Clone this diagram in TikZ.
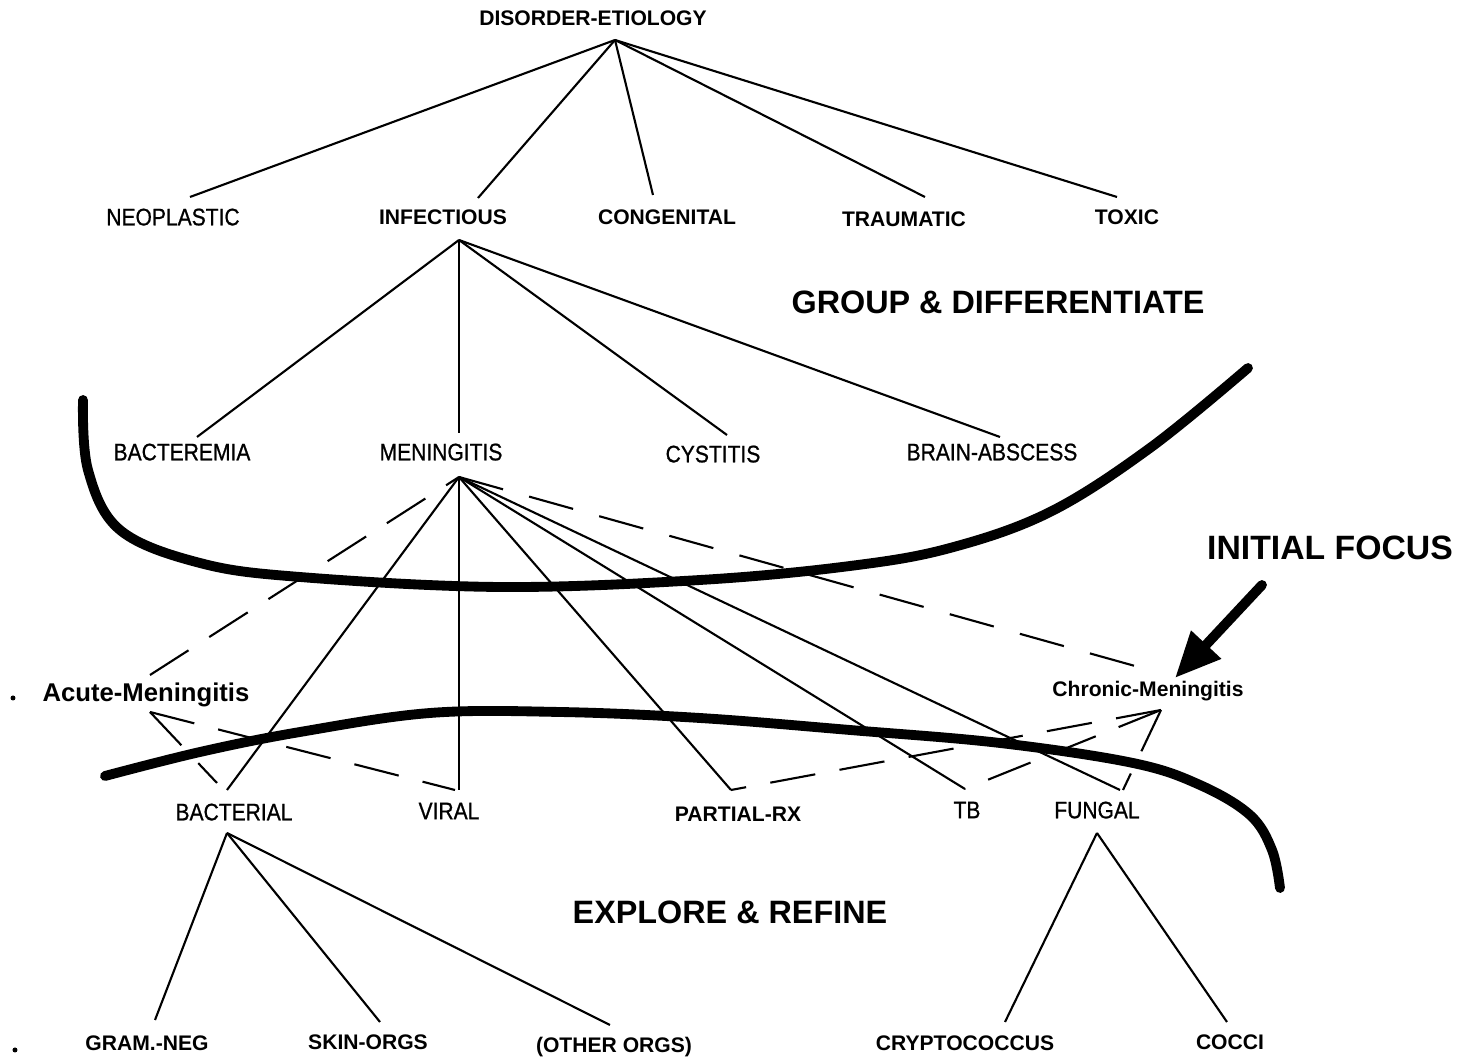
\documentclass[tikz,border=0pt]{standalone}
\usepackage{fontspec}
\setmainfont{Liberation Sans}
\newfontfamily\narrowfont[FakeStretch=0.88,FakeBold=0.8]{Liberation Sans}
\usetikzlibrary{arrows.meta}

\tikzset{
  lbl/.style={font=\narrowfont\fontsize{6.8}{8}\selectfont, inner sep=1pt, text depth=0pt},
  lblb/.style={font=\fontsize{6}{7}\selectfont\bfseries, inner sep=1pt, text depth=0pt},
  banner/.style={font=\fontsize{9.2}{11}\selectfont\bfseries, inner sep=0pt},
  branch/.style={line width=0.6pt},
  alt/.style={line width=0.6pt, dash pattern=on 13pt off 7pt},
  boundary/.style={line width=2.8pt, line cap=round},
}

\begin{document}
\begin{tikzpicture}[x=0.01cm,y=-0.01cm]
\useasboundingbox (0,0) rectangle (1465,1061);

% labels
\node[lblb] (dis) at (593,18) {DISORDER-ETIOLOGY};
\node[lbl]  (neo) at (173,217) {NEOPLASTIC};
\node[lblb] (inf) at (443,217) {INFECTIOUS};
\node[lblb] (con) at (667,217) {CONGENITAL};
\node[lblb] (tra) at (904,219) {TRAUMATIC};
\node[lblb] (tox) at (1127,217) {TOXIC};
\node[lbl]  (bcm) at (182,452) {BACTEREMIA};
\node[lbl]  (men) at (441,452) {MENINGITIS};
\node[lbl]  (cys) at (713,454) {CYSTITIS};
\node[lbl]  (bra) at (992,452) {BRAIN-ABSCESS};
\node[lblb, font=\fontsize{7.3}{8}\selectfont\bfseries] (acu) at (146,692) {Acute-Meningitis};
\node[lblb] (chr) at (1148,689) {Chronic-Meningitis};
\node[lbl]  (bac) at (234,812) {BACTERIAL};
\node[lbl]  (vir) at (449,811) {VIRAL};
\node[lblb] (par) at (738,814) {PARTIAL-RX};
\node[lbl]  (tb)  at (967,810) {TB};
\node[lbl]  (fun) at (1097,810) {FUNGAL};
\node[lblb] (gra) at (147,1043) {GRAM.-NEG};
\node[lblb] (ski) at (368,1042) {SKIN-ORGS};
\node[lblb] (oth) at (614,1045) {(OTHER ORGS)};
\node[lblb] (cry) at (965,1043) {CRYPTOCOCCUS};
\node[lblb] (coc) at (1230,1042) {COCCI};

\node[banner] (grp) at (998,302) {GROUP \& DIFFERENTIATE};
\node[banner, font=\fontsize{9.6}{11}\selectfont\bfseries] (foc) at (1330,548) {INITIAL FOCUS};
\node[banner] (exp) at (730,912) {EXPLORE \& REFINE};

\fill (13,698) circle (2.5);
\fill (15,1050) circle (2.5);

% branch points
\coordinate (dis-o) at (615,40);
\coordinate (neo-i) at (190,197);
\coordinate (inf-i) at (478,198);
\coordinate (con-i) at (653,195);
\coordinate (tra-i) at (925,197);
\coordinate (tox-i) at (1117,197);
\coordinate (inf-o) at (459,240);
\coordinate (bcm-i) at (197,437);
\coordinate (men-i) at (459,433);
\coordinate (cys-i) at (727,435);
\coordinate (bra-i) at (1000,437);
\coordinate (men-o) at (459,477);
\coordinate (acu-i) at (150,675);
\coordinate (chr-i) at (1135,666);
\coordinate (bac-i) at (227,790);
\coordinate (vir-i) at (459,790);
\coordinate (par-i) at (731,790);
\coordinate (tb-i)  at (965,789);
\coordinate (fun-i) at (1120,790);
\coordinate (acu-o) at (150,712);
\coordinate (bac-a) at (217,783);
\coordinate (vir-a) at (455,790);
\coordinate (chr-o) at (1161,710);
\coordinate (fun-a) at (1123,790);
\coordinate (bac-o) at (227,833);
\coordinate (gra-i) at (155,1020);
\coordinate (ski-i) at (380,1022);
\coordinate (oth-i) at (610,1025);
\coordinate (fun-o) at (1097,833);
\coordinate (cry-i) at (1005,1022);
\coordinate (coc-i) at (1227,1022);

% tree
\foreach \c in {neo,inf,con,tra,tox} \draw[branch] (dis-o) -- (\c-i);
\foreach \c in {bcm,men,cys,bra} \draw[branch] (inf-o) -- (\c-i);
\foreach \c in {bac,vir,par,tb,fun} \draw[branch] (men-o) -- (\c-i);
\draw[alt] (acu-i) -- (men-o);
\draw[alt, dash pattern=on 13pt off 7.7pt] (men-o) -- (chr-i);
\draw[alt] (acu-o) -- (bac-a);
\draw[alt] (acu-o) -- (vir-a);
\foreach \c in {par-i,tb-i,fun-a} \draw[alt] (chr-o) -- (\c);
\foreach \c in {gra,ski,oth} \draw[branch] (bac-o) -- (\c-i);
\foreach \c in {cry,coc} \draw[branch] (fun-o) -- (\c-i);

% focus boundaries
\draw[boundary] plot[smooth, tension=0.6] coordinates {(83,400) (88,470) (120,530) (200,563) (300,577) (500,587) (700,580) (850,566) (950,548) (1050,512) (1150,448) (1248,368)};
\draw[boundary] plot[smooth, tension=0.6] coordinates {(105,776) (200,752) (300,732) (430,713) (560,712) (700,718) (850,730) (1000,743) (1133,763) (1200,785) (1250,815) (1272,850) (1280,888)};

% initial focus arrow
\coordinate (foc-s) at (1262,585);
\coordinate (chr-t) at (1175,678);
\draw[line width=2.8pt, line cap=round, -{Triangle[length=13pt,width=11pt]}] (foc-s) -- (chr-t);
\end{tikzpicture}
\end{document}
